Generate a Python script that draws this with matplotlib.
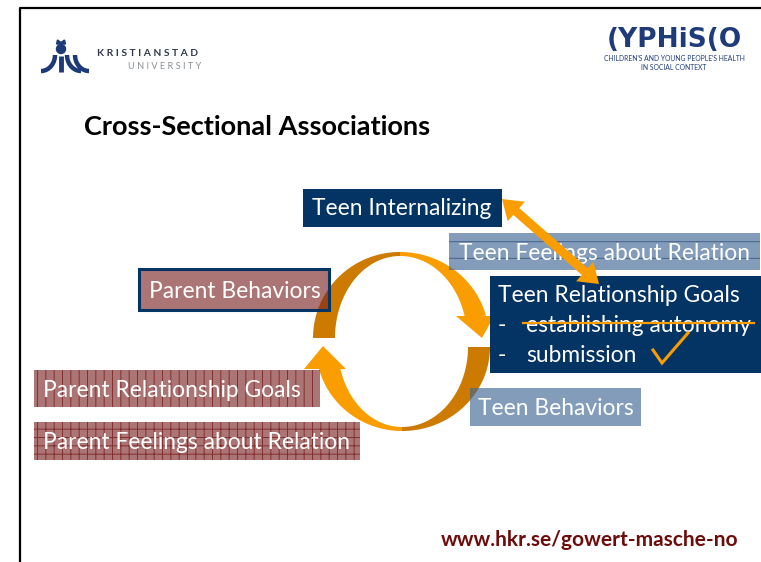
import matplotlib.pyplot as plt
import matplotlib.patches as mpatches
import numpy as np

# slide content
title = "Cross-Sectional Associations"
teen_labels = ["Teen Internalizing", "Teen Feelings about Relation",
               "Teen Relationship Goals", "Teen Behaviors"]
goal_items = ["establishing autonomy", "submission"]
parent_labels = ["Parent Behaviors", "Parent Relationship Goals",
                 "Parent Feelings about Relation"]
url = "www.hkr.se/gowert-masche-no"

NAVY = '#043464'
BLUEGRAY = '#3f6794'
MAUVE = '#7a2020'
DARK_OR = '#cc7a00'
BRIGHT_OR = '#f99d00'
LOGO = '#1d3a78'

plt.rcParams['font.family'] = ['Lato', 'DejaVu Sans']
plt.rcParams['hatch.linewidth'] = 0.7

fig = plt.figure(figsize=(7.61, 5.62), dpi=100)
ax = fig.add_axes([0, 0, 1, 1])
ax.set_xlim(0, 761)
ax.set_ylim(562, 0)
ax.axis('off')

# slide frame
ax.plot([20, 20, 761], [562, 8, 8], color='black', lw=1.6, zorder=1)


def band(cx, cy, ro, ri, t0, t1, n=80):
    t = np.radians(np.linspace(t0, t1, n))
    xo = cx + ro[0] * np.cos(t)
    yo = cy - ro[1] * np.sin(t)
    xi = cx + ri[0] * np.cos(t[::-1])
    yi = cy - ri[1] * np.sin(t[::-1])
    return np.column_stack([np.r_[xo, xi], np.r_[yo, yi]])


# curved arrows (upper: parent -> teen, lower: teen -> parent)
ax.add_patch(mpatches.Polygon(band(400, 338, (87, 86), (65, 82), 180, 90), color=DARK_OR, lw=0, zorder=2))
ax.add_patch(mpatches.Polygon(band(400, 338, (89, 86), (67, 82), 90, 15), color=BRIGHT_OR, lw=0, zorder=2))
ax.add_patch(mpatches.Polygon([(456, 316), (494, 316), (482, 338)], color=BRIGHT_OR, lw=0, zorder=2))

ax.add_patch(mpatches.Polygon(band(402, 347, (88, 84), (66, 80), 0, -90), color=DARK_OR, lw=0, zorder=2))
ax.add_patch(mpatches.Polygon(band(402, 347, (86, 84), (64, 80), -90, -165), color=BRIGHT_OR, lw=0, zorder=2))
ax.add_patch(mpatches.Polygon([(304, 369), (346, 369), (323, 346)], color=BRIGHT_OR, lw=0, zorder=2))


def box(x0, y0, x1, y1, face, alpha=1.0, hatch=None, hatch_color=None, edge=None, z=3):
    ax.add_patch(mpatches.Rectangle((x0, y0), x1 - x0, y1 - y0, facecolor=face,
                                    alpha=alpha, lw=0, zorder=z))
    if hatch:
        ax.add_patch(mpatches.Rectangle((x0, y0), x1 - x0, y1 - y0, facecolor='none',
                                        edgecolor=hatch_color, hatch=hatch, lw=0,
                                        alpha=0.6, zorder=z + 0.1))
    if edge:
        ax.add_patch(mpatches.Rectangle((x0, y0), x1 - x0, y1 - y0, facecolor='none',
                                        edgecolor=edge, lw=2.2, zorder=z + 0.2))


FS = 16.4

# teen side
box(303, 189, 502, 227, NAVY)
ax.text(312, 215, teen_labels[0], color='white', fontsize=FS, zorder=5)

box(449, 233, 760, 270, BLUEGRAY, alpha=0.65, hatch='-', hatch_color='#1c3d6a')
ax.text(459, 260, teen_labels[1], color='white', fontsize=FS, zorder=5)

box(490, 276, 761, 373, NAVY, z=4)
ax.text(498, 302, teen_labels[2], color='white', fontsize=FS, zorder=5)
ax.text(498, 332, "-", color='white', fontsize=FS, zorder=5)
ax.text(526, 332, goal_items[0], color='white', fontsize=FS, zorder=5)
ax.text(498, 362, "-", color='white', fontsize=FS, zorder=5)
ax.text(526, 362, goal_items[1], color='white', fontsize=FS, zorder=5)
ax.plot([523, 754], [323, 323], color=BRIGHT_OR, lw=1.6, zorder=6)
ax.plot([653, 662, 688], [350, 363, 333], color=BRIGHT_OR, lw=2.2,
        solid_joinstyle='miter', zorder=6)

box(470, 388, 641, 426, BLUEGRAY, alpha=0.65)
ax.text(478, 415, teen_labels[3], color='white', fontsize=FS, zorder=5)

# parent side
box(139, 269, 329, 310, MAUVE, alpha=0.62, edge=NAVY)
ax.text(149, 298, parent_labels[0], color='white', fontsize=FS, zorder=5)

box(34, 370, 320, 407, MAUVE, alpha=0.62, hatch='||', hatch_color='#6a0000')
ax.text(43, 397, parent_labels[1], color='white', fontsize=FS, zorder=5)

box(34, 422, 360, 460, MAUVE, alpha=0.62, hatch='++', hatch_color='#6a0000')
ax.text(43, 449, parent_labels[2], color='white', fontsize=FS, zorder=5)

# double-headed arrow internalizing <-> relationship goals
p0 = np.array([502.0, 199.0])
p1 = np.array([599.0, 284.0])
d = (p1 - p0) / np.linalg.norm(p1 - p0)
nrm = np.array([-d[1], d[0]])
hl, hw, sw = 19, 13, 4.5
pts = [p0, p0 + d * hl + nrm * hw, p0 + d * hl + nrm * sw,
       p1 - d * hl + nrm * sw, p1 - d * hl + nrm * hw, p1,
       p1 - d * hl - nrm * hw, p1 - d * hl - nrm * sw,
       p0 + d * hl - nrm * sw, p0 + d * hl - nrm * hw]
ax.add_patch(mpatches.Polygon(pts, color=BRIGHT_OR, lw=0, zorder=7))

# title and footer
ax.text(84, 135, title, fontsize=19.5, fontweight='bold', color='black')
ax.text(441, 546, url, fontsize=15, fontweight='bold', color='#6e0b0b')

# Kristianstad University logo
t = np.radians(np.linspace(0, 90, 30))
ax.plot(41 + 14 * np.cos(t), 55 + 16 * np.sin(t), color=LOGO, lw=3.2, solid_capstyle='butt')
ax.plot(81 - 14 * np.cos(t), 55 + 16 * np.sin(t), color=LOGO, lw=3.2, solid_capstyle='butt')
ax.plot(89 - 14 * np.cos(t), 55 + 16 * np.sin(t), color=LOGO, lw=3.2, solid_capstyle='butt')
ax.plot([61, 61], [56, 72], color=LOGO, lw=3.5, solid_capstyle='butt')
ax.add_patch(mpatches.Circle((61, 49), 4.5, color=LOGO))
ax.add_patch(mpatches.Polygon([(56.5, 44), (57.5, 40), (61, 42.5), (64.5, 40), (65.5, 44)], color=LOGO))
ax.text(97, 56, "K R I S T I A N S T A D", fontsize=7.4, fontweight='bold', color='#303b4a')
ax.text(128, 69, "U N I V E R S I T Y", fontsize=6.6, color='#8a8f96')

# CYPHiSCO logo
ax.text(674, 47, "(YPHiS(O", fontsize=19, fontweight='heavy', color='#1f3c7a',
        ha='center', family=['DejaVu Sans'])
ax.text(674, 61, "CHILDREN'S AND YOUNG PEOPLE'S HEALTH", fontsize=4.9, color='#1f3c7a', ha='center')
ax.text(674, 70, "IN SOCIAL CONTEXT", fontsize=4.9, color='#1f3c7a', ha='center')

fig.savefig('out.png', dpi=100)
